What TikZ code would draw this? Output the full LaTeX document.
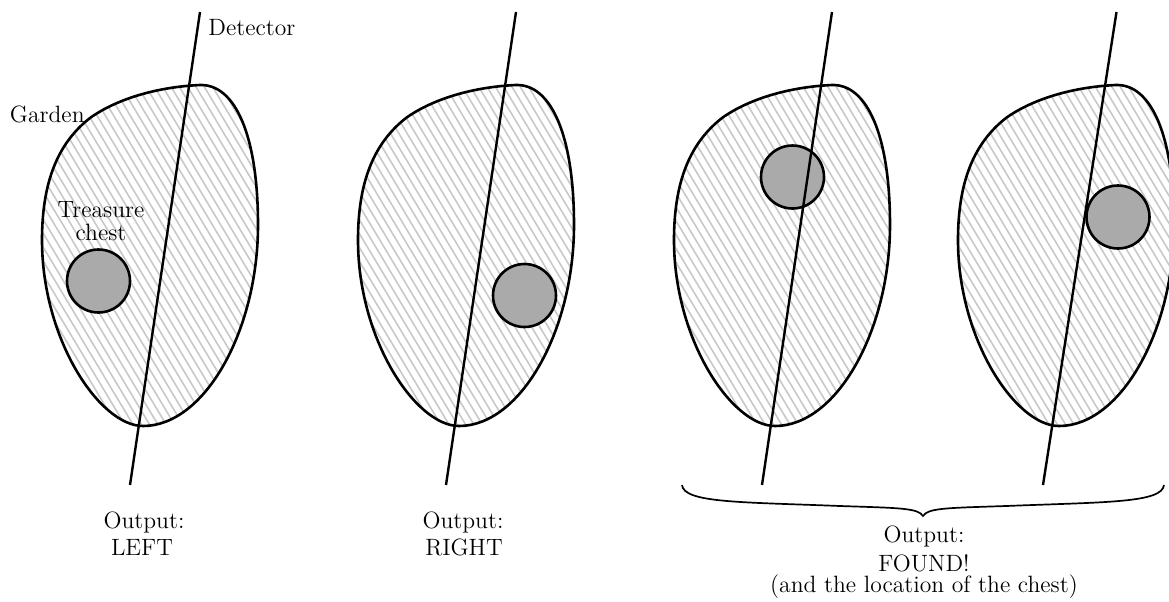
\documentclass[tikz,border=0pt]{standalone}
\definecolor{hatchgray}{RGB}{200,200,200}
\definecolor{chestgray}{RGB}{170,170,170}
\begin{document}
\begin{tikzpicture}[x=0.5pt,y=-0.5pt,
  outline/.style={line width=1.3pt},
  hatch/.style={draw=hatchgray, line width=0.8pt},
  chest/.style={circle, draw, line width=1.3pt, fill=chestgray, minimum size=31.5pt, inner sep=0pt},
  detector/.style={line width=1.2pt},
  lbl/.style={font=\fontsize{11.8}{14}\selectfont, inner sep=0pt},
  bracestyle/.style={line width=0.85pt}]
\useasboundingbox (0,0) rectangle (1169,601);
\clip (0,0) rectangle (1169,601);
\def\gardenpath{(200,85) .. controls (235,84) and (258,135) .. (258,225) .. controls (258,330) and (205,426) .. (143,426) .. controls (100,426) and (42,340) .. (42,240) .. controls (42,175) and (62,140) .. (90,118) .. controls (115,100) and (155,87) .. (200,85) -- cycle}
\foreach \dx in {0,316,632,916}{
  \begin{scope}[shift={(\dx,0)}]
    \begin{scope}
      \clip \gardenpath;
      \foreach \s in {-260,-251.7,...,270} \draw[hatch] (\s,60) -- ++(300,500);
    \end{scope}
    \draw[outline] \gardenpath;
  \end{scope}
}
% chests
\node[chest] (c1) at (98.5,281) {};
\node[chest] (c2) at (524.5,295.5) {};
\node[chest] (c3) at (792.5,177) {};
\node[chest] (c4) at (1118,217) {};
% detectors
\coordinate (d1a) at (200,12);  \coordinate (d1b) at (130,485);
\coordinate (d2a) at (516,12);  \coordinate (d2b) at (446,485);
\coordinate (d3a) at (832,12);  \coordinate (d3b) at (762,485);
\coordinate (d4a) at (1116.5,12); \coordinate (d4b) at (1043,485);
\draw[detector] (d1a) -- (d1b);
\draw[detector] (d2a) -- (d2b);
\draw[detector] (d3a) -- (d3b);
\draw[detector] (d4a) -- (d4b);
% labels
\node[lbl, anchor=base west] (det) at (208,35) {Detector};
\node[lbl, anchor=base east] (gar) at (85,122) {Garden};
\node[lbl, anchor=base, align=center, font=\fontsize{11.8}{11.5}\selectfont] (tc) at (101,240) {Treasure\\chest};
\node[lbl, anchor=base] (o1) at (144,528) {Output:};
\node[lbl, anchor=base] (r1) at (142,555) {LEFT};
\node[lbl, anchor=base] (o2) at (463,528) {Output:};
\node[lbl, anchor=base] (r2) at (464,555) {RIGHT};
% brace
\coordinate (ba) at (682,485);
\coordinate (bt) at (923,516);
\coordinate (bb) at (1164,485);
\draw[bracestyle] (ba) .. controls (684,503) and (740,502) .. (840,506)
  .. controls (900,508) and (918,508) .. (bt)
  .. controls (928,508) and (946,508) .. (1006,506)
  .. controls (1106,502) and (1162,503) .. (bb);
\node[lbl, anchor=base] (o3) at (924,542) {Output:};
\node[lbl, anchor=base, align=center, font=\fontsize{11.8}{10.5}\selectfont] (r3) at (924,592) {FOUND!\\(and the location of the chest)};
\end{tikzpicture}
\end{document}
